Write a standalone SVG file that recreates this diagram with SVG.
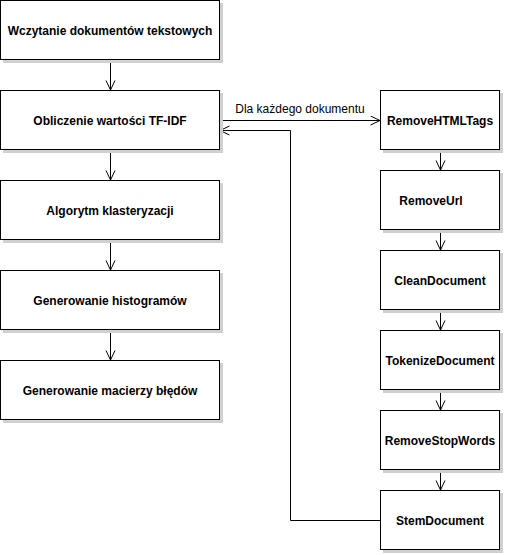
<svg xmlns="http://www.w3.org/2000/svg" width="505" height="555" viewBox="0 0 505 555">
<style>
.sh{fill:#d0d0d0;stroke:none}
.bx{fill:#fff;stroke:#000;stroke-width:1}
.t{font-family:"Liberation Sans",Arial,sans-serif;font-size:12px;font-weight:bold;text-anchor:middle;fill:#000}
.lbl{font-family:"Liberation Sans",Arial,sans-serif;font-size:12px;text-anchor:middle;fill:#000}
.c{fill:none;stroke:#000;stroke-width:1}
</style>
<defs>
<marker id="a" markerUnits="userSpaceOnUse" markerWidth="12" markerHeight="12" refX="10" refY="5" orient="auto" viewBox="0 0 12 12">
<path d="M0.5,0.5 L10,5 L0.5,9.5" fill="none" stroke="#000" stroke-width="1"/>
</marker>
</defs>
<rect width="505" height="555" fill="#fff"/>
<g id="connectors">
<path class="c" d="M110.5,60 V90" marker-end="url(#a)"/>
<path class="c" d="M110.5,150 V180" marker-end="url(#a)"/>
<path class="c" d="M110.5,240 V270" marker-end="url(#a)"/>
<path class="c" d="M110.5,330 V360" marker-end="url(#a)"/>
<path class="c" d="M220,120.5 H380" marker-end="url(#a)"/>
<text class="lbl" x="300" y="113">Dla każdego dokumentu</text>
<path class="c" d="M440.5,150 V170" marker-end="url(#a)"/>
<path class="c" d="M440.5,230 V250" marker-end="url(#a)"/>
<path class="c" d="M440.5,310 V330" marker-end="url(#a)"/>
<path class="c" d="M440.5,390 V410" marker-end="url(#a)"/>
<path class="c" d="M440.5,470 V490" marker-end="url(#a)"/>
<path class="c" d="M380,520.5 H290.5 V130.5 H220" marker-end="url(#a)"/>
</g>
<g id="n1"><rect class="sh" x="3" y="3" width="220" height="60"/><rect class="bx" x="0.5" y="0.5" width="219" height="59"/><text class="t" x="110" y="35">Wczytanie dokumentów tekstowych</text></g>
<g id="n2"><rect class="sh" x="3" y="93" width="220" height="60"/><rect class="bx" x="0.5" y="90.5" width="219" height="59"/><text class="t" x="110" y="125">Obliczenie wartości TF-IDF</text></g>
<g id="n3"><rect class="sh" x="3" y="183" width="220" height="60"/><rect class="bx" x="0.5" y="180.5" width="219" height="59"/><text class="t" x="110" y="215">Algorytm klasteryzacji</text></g>
<g id="n4"><rect class="sh" x="3" y="273" width="220" height="60"/><rect class="bx" x="0.5" y="270.5" width="219" height="59"/><text class="t" x="110" y="305">Generowanie histogramów</text></g>
<g id="n5"><rect class="sh" x="3" y="363" width="220" height="60"/><rect class="bx" x="0.5" y="360.5" width="219" height="59"/><text class="t" x="110" y="395">Generowanie macierzy błędów</text></g>
<g id="r1"><rect class="sh" x="383" y="93" width="120" height="60"/><rect class="bx" x="380.5" y="90.5" width="119" height="59"/><text class="t" x="440" y="125">RemoveHTMLTags</text></g>
<g id="r2"><rect class="sh" x="383" y="173" width="120" height="60"/><rect class="bx" x="380.5" y="170.5" width="119" height="59"/><text class="t" x="431" y="205">RemoveUrl</text></g>
<g id="r3"><rect class="sh" x="383" y="253" width="120" height="60"/><rect class="bx" x="380.5" y="250.5" width="119" height="59"/><text class="t" x="440" y="285">CleanDocument</text></g>
<g id="r4"><rect class="sh" x="383" y="333" width="120" height="60"/><rect class="bx" x="380.5" y="330.5" width="119" height="59"/><text class="t" x="440" y="365">TokenizeDocument</text></g>
<g id="r5"><rect class="sh" x="383" y="413" width="120" height="60"/><rect class="bx" x="380.5" y="410.5" width="119" height="59"/><text class="t" x="440" y="445">RemoveStopWords</text></g>
<g id="r6"><rect class="sh" x="383" y="493" width="120" height="60"/><rect class="bx" x="380.5" y="490.5" width="119" height="59"/><text class="t" x="440" y="525">StemDocument</text></g>
</svg>
